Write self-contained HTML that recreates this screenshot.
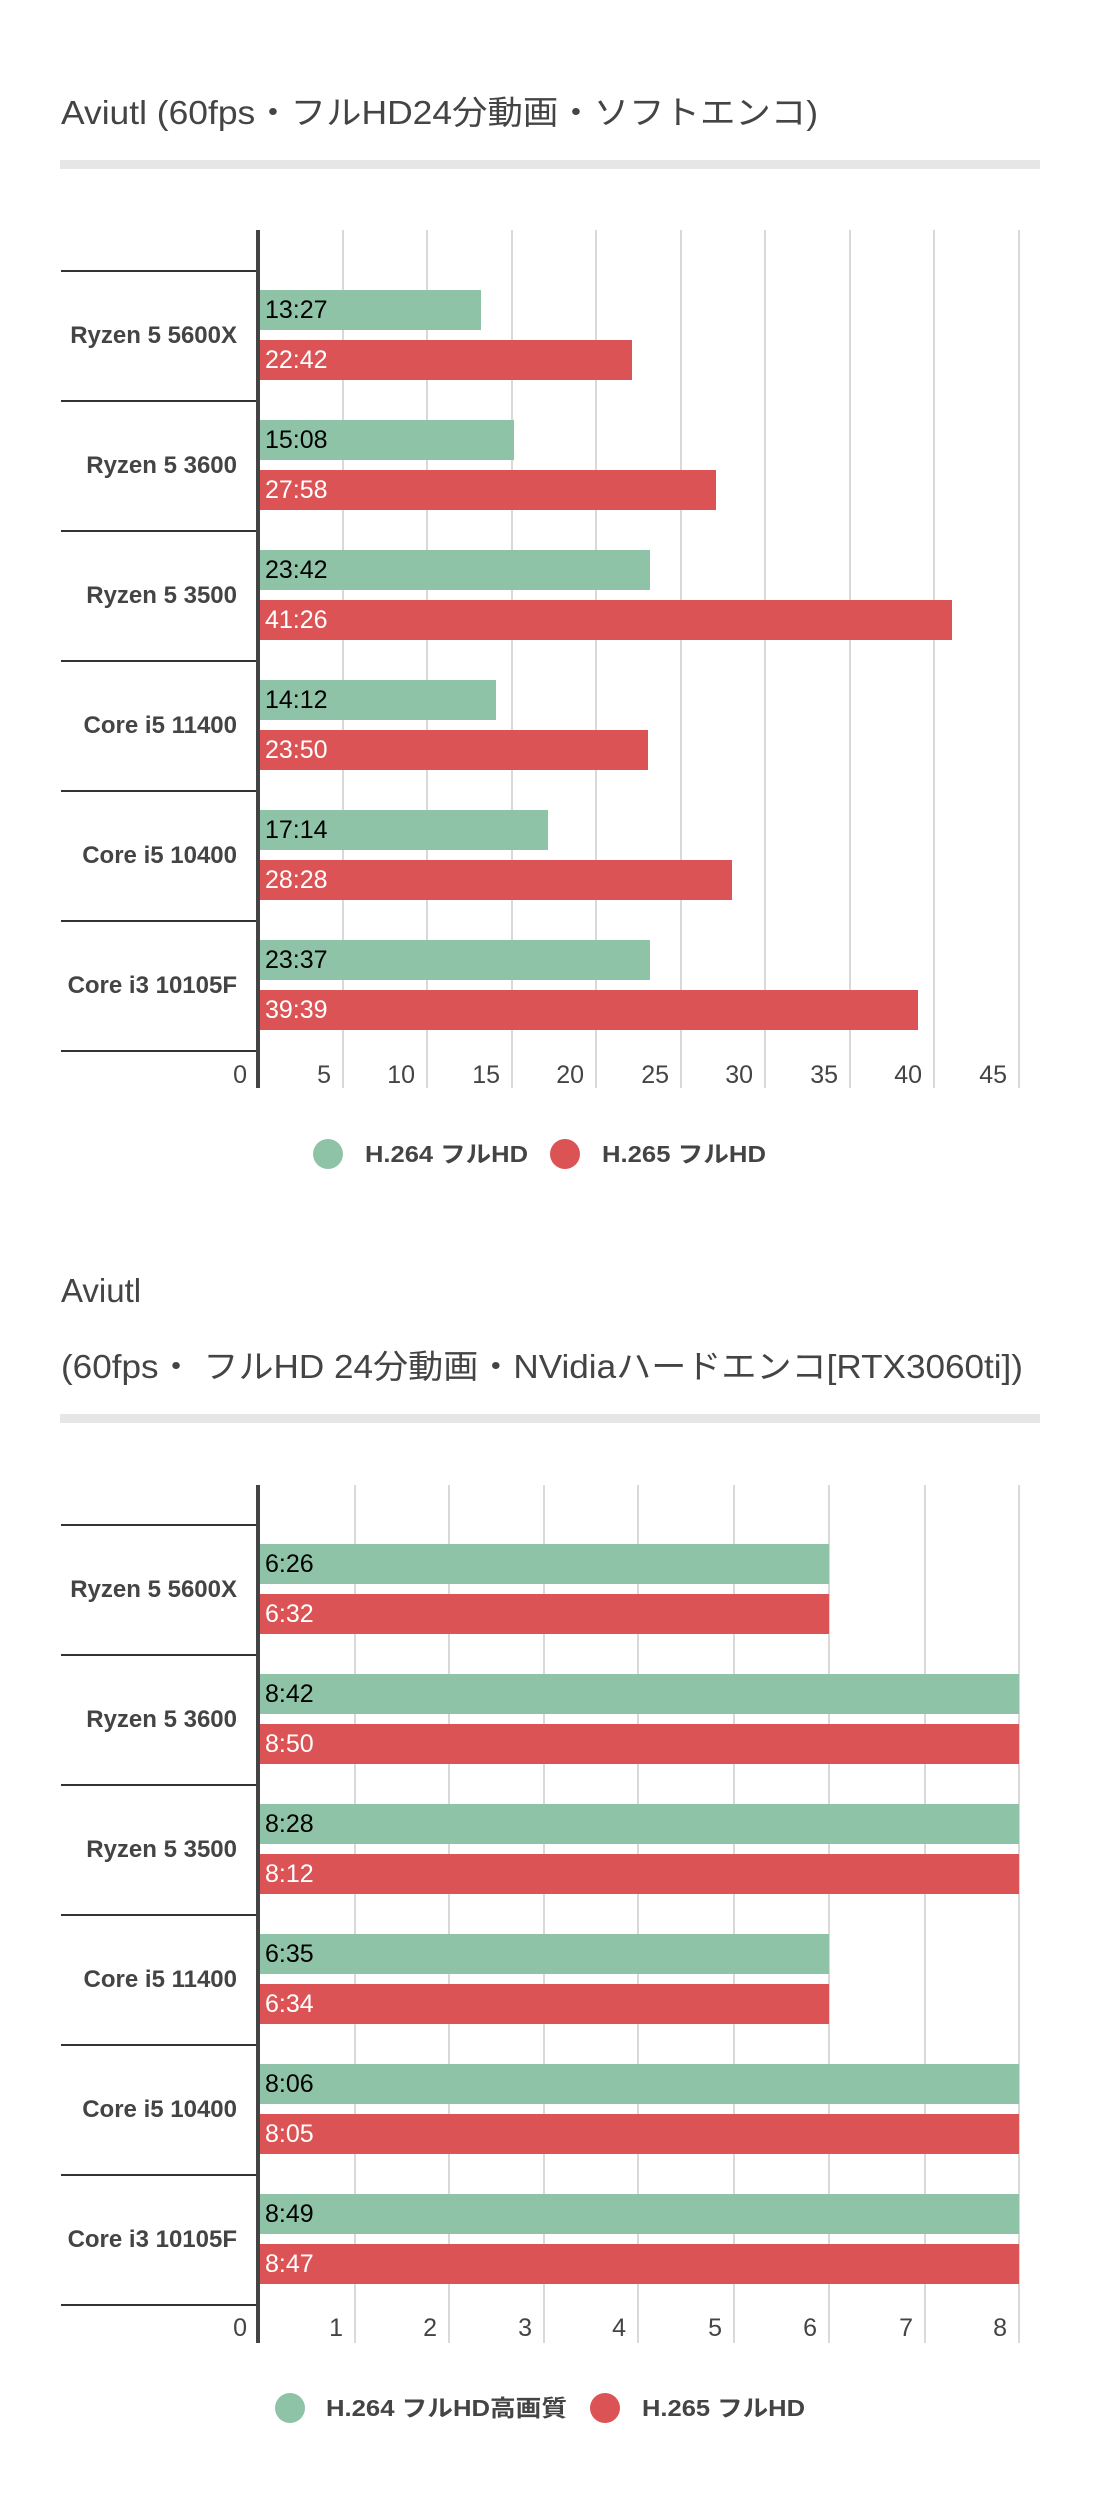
<!DOCTYPE html>
<html><head><meta charset="utf-8"><style>
html,body{margin:0;padding:0;background:#fff;}
svg{display:block;}
text{font-family:"Liberation Sans","Noto Sans CJK JP",sans-serif;}
.t{font-size:33px;fill:#444;}
.c{font-size:24px;font-weight:bold;fill:#444;text-anchor:end;}
.k{font-size:25px;fill:#444;text-anchor:end;}
.g{font-size:25px;fill:#000;}
.r{font-size:25px;fill:#fff;}
.l{font-size:23px;font-weight:bold;fill:#444;}
</style></head><body>
<svg width="1100" height="2494" viewBox="0 0 1100 2494" xmlns="http://www.w3.org/2000/svg">
<rect width="1100" height="2494" fill="#fff"/>
<!-- Chart 1 -->
<text class="t" x="61" y="124" textLength="757" lengthAdjust="spacingAndGlyphs">Aviutl (60fps・フルHD24分動画・ソフトエンコ)</text>
<rect x="60" y="160" width="980" height="9" fill="#e6e6e6"/>
<g stroke="#d9d9d9" stroke-width="2">
<line x1="343" y1="230" x2="343" y2="1088"/><line x1="427" y1="230" x2="427" y2="1088"/>
<line x1="512" y1="230" x2="512" y2="1088"/><line x1="596" y1="230" x2="596" y2="1088"/>
<line x1="681" y1="230" x2="681" y2="1088"/><line x1="765" y1="230" x2="765" y2="1088"/>
<line x1="850" y1="230" x2="850" y2="1088"/><line x1="934" y1="230" x2="934" y2="1088"/>
<line x1="1019" y1="230" x2="1019" y2="1088"/>
</g>
<g stroke="#333" stroke-width="2">
<line x1="61" y1="271" x2="258" y2="271"/><line x1="61" y1="401" x2="258" y2="401"/>
<line x1="61" y1="531" x2="258" y2="531"/><line x1="61" y1="661" x2="258" y2="661"/>
<line x1="61" y1="791" x2="258" y2="791"/><line x1="61" y1="921" x2="258" y2="921"/>
<line x1="61" y1="1051" x2="258" y2="1051"/>
</g>
<g fill="#8fc3a7">
<rect x="260" y="290" width="221" height="40"/><rect x="260" y="420" width="254" height="40"/>
<rect x="260" y="550" width="390" height="40"/><rect x="260" y="680" width="236" height="40"/>
<rect x="260" y="810" width="288" height="40"/><rect x="260" y="940" width="390" height="40"/>
</g>
<g fill="#dc5356">
<rect x="260" y="340" width="372" height="40"/><rect x="260" y="470" width="456" height="40"/>
<rect x="260" y="600" width="692" height="40"/><rect x="260" y="730" width="388" height="40"/>
<rect x="260" y="860" width="472" height="40"/><rect x="260" y="990" width="658" height="40"/>
</g>
<rect x="256" y="230" width="4" height="858" fill="#444"/>
<text class="g" x="265" y="318">13:27</text><text class="r" x="265" y="368">22:42</text>
<text class="g" x="265" y="448">15:08</text><text class="r" x="265" y="498">27:58</text>
<text class="g" x="265" y="578">23:42</text><text class="r" x="265" y="628">41:26</text>
<text class="g" x="265" y="708">14:12</text><text class="r" x="265" y="758">23:50</text>
<text class="g" x="265" y="838">17:14</text><text class="r" x="265" y="888">28:28</text>
<text class="g" x="265" y="968">23:37</text><text class="r" x="265" y="1018">39:39</text>
<text class="c" x="237" y="343">Ryzen 5 5600X</text>
<text class="c" x="237" y="473">Ryzen 5 3600</text>
<text class="c" x="237" y="603">Ryzen 5 3500</text>
<text class="c" x="237" y="733">Core i5 11400</text>
<text class="c" x="237" y="863">Core i5 10400</text>
<text class="c" x="237" y="993">Core i3 10105F</text>
<text class="k" x="247" y="1083">0</text><text class="k" x="331" y="1083">5</text>
<text class="k" x="415" y="1083">10</text><text class="k" x="500" y="1083">15</text>
<text class="k" x="584" y="1083">20</text><text class="k" x="669" y="1083">25</text>
<text class="k" x="753" y="1083">30</text><text class="k" x="838" y="1083">35</text>
<text class="k" x="922" y="1083">40</text><text class="k" x="1007" y="1083">45</text>
<circle cx="328" cy="1154" r="15" fill="#8fc3a7"/>
<text class="l" x="365" y="1162" textLength="163" lengthAdjust="spacingAndGlyphs">H.264 フルHD</text>
<circle cx="565" cy="1154" r="15" fill="#dc5356"/>
<text class="l" x="602" y="1162" textLength="164" lengthAdjust="spacingAndGlyphs">H.265 フルHD</text>

<!-- Chart 2 -->
<text class="t" x="61" y="1302">Aviutl</text>
<text class="t" x="61" y="1378" textLength="962" lengthAdjust="spacingAndGlyphs">(60fps・ フルHD 24分動画・NVidiaハードエンコ[RTX3060ti])</text>
<rect x="60" y="1414" width="980" height="9" fill="#e6e6e6"/>
<g stroke="#d9d9d9" stroke-width="2">
<line x1="355" y1="1485" x2="355" y2="2343"/><line x1="449" y1="1485" x2="449" y2="2343"/>
<line x1="544" y1="1485" x2="544" y2="2343"/><line x1="638" y1="1485" x2="638" y2="2343"/>
<line x1="734" y1="1485" x2="734" y2="2343"/><line x1="829" y1="1485" x2="829" y2="2343"/>
<line x1="925" y1="1485" x2="925" y2="2343"/><line x1="1019" y1="1485" x2="1019" y2="2343"/>
</g>
<g stroke="#333" stroke-width="2">
<line x1="61" y1="1525" x2="258" y2="1525"/><line x1="61" y1="1655" x2="258" y2="1655"/>
<line x1="61" y1="1785" x2="258" y2="1785"/><line x1="61" y1="1915" x2="258" y2="1915"/>
<line x1="61" y1="2045" x2="258" y2="2045"/><line x1="61" y1="2175" x2="258" y2="2175"/>
<line x1="61" y1="2305" x2="258" y2="2305"/>
</g>
<g fill="#8fc3a7">
<rect x="260" y="1544" width="569" height="40"/><rect x="260" y="1674" width="759" height="40"/>
<rect x="260" y="1804" width="759" height="40"/><rect x="260" y="1934" width="569" height="40"/>
<rect x="260" y="2064" width="759" height="40"/><rect x="260" y="2194" width="759" height="40"/>
</g>
<g fill="#dc5356">
<rect x="260" y="1594" width="569" height="40"/><rect x="260" y="1724" width="759" height="40"/>
<rect x="260" y="1854" width="759" height="40"/><rect x="260" y="1984" width="569" height="40"/>
<rect x="260" y="2114" width="759" height="40"/><rect x="260" y="2244" width="759" height="40"/>
</g>
<rect x="256" y="1485" width="4" height="858" fill="#444"/>
<text class="g" x="265" y="1572">6:26</text><text class="r" x="265" y="1622">6:32</text>
<text class="g" x="265" y="1702">8:42</text><text class="r" x="265" y="1752">8:50</text>
<text class="g" x="265" y="1832">8:28</text><text class="r" x="265" y="1882">8:12</text>
<text class="g" x="265" y="1962">6:35</text><text class="r" x="265" y="2012">6:34</text>
<text class="g" x="265" y="2092">8:06</text><text class="r" x="265" y="2142">8:05</text>
<text class="g" x="265" y="2222">8:49</text><text class="r" x="265" y="2272">8:47</text>
<text class="c" x="237" y="1597">Ryzen 5 5600X</text>
<text class="c" x="237" y="1727">Ryzen 5 3600</text>
<text class="c" x="237" y="1857">Ryzen 5 3500</text>
<text class="c" x="237" y="1987">Core i5 11400</text>
<text class="c" x="237" y="2117">Core i5 10400</text>
<text class="c" x="237" y="2247">Core i3 10105F</text>
<text class="k" x="247" y="2336">0</text><text class="k" x="343" y="2336">1</text>
<text class="k" x="437" y="2336">2</text><text class="k" x="532" y="2336">3</text>
<text class="k" x="626" y="2336">4</text><text class="k" x="722" y="2336">5</text>
<text class="k" x="817" y="2336">6</text><text class="k" x="913" y="2336">7</text>
<text class="k" x="1007" y="2336">8</text>
<circle cx="290" cy="2408" r="15" fill="#8fc3a7"/>
<text class="l" x="326" y="2416" textLength="241" lengthAdjust="spacingAndGlyphs">H.264 フルHD高画質</text>
<circle cx="605" cy="2408" r="15" fill="#dc5356"/>
<text class="l" x="642" y="2416" textLength="163" lengthAdjust="spacingAndGlyphs">H.265 フルHD</text>
</svg>
</body></html>
